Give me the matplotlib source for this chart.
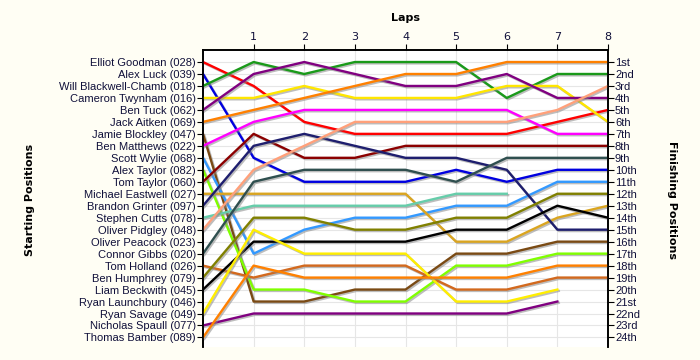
import matplotlib.pyplot as plt
import matplotlib.patheffects as pe

# starting grid, top to bottom
riders = ['Elliot Goodman (028)', 'Alex Luck (039)', 'Will Blackwell-Chamb (018)',
          'Cameron Twynham (016)', 'Ben Tuck (062)', 'Jack Aitken (069)',
          'Jamie Blockley (047)', 'Ben Matthews (022)', 'Scott Wylie (068)',
          'Alex Taylor (082)', 'Tom Taylor (060)', 'Michael Eastwell (027)',
          'Brandon Grinter (097)', 'Stephen Cutts (078)', 'Oliver Pidgley (048)',
          'Oliver Peacock (023)', 'Connor Gibbs (020)', 'Tom Holland (026)',
          'Ben Humphrey (079)', 'Liam Beckwith (045)', 'Ryan Launchbury (046)',
          'Ryan Savage (049)', 'Nicholas Spaull (077)', 'Thomas Bamber (089)']

finish_labels = ['1st', '2nd', '3rd', '4th', '5th', '6th', '7th', '8th', '9th', '10th',
                 '11th', '12th', '13th', '14th', '15th', '16th', '17th', '18th', '19th',
                 '20th', '21st', '22nd', '23rd', '24th']

laps = [0, 1, 2, 3, 4, 5, 6, 7, 8]

# position at each lap (lap 0 = grid slot), one list per grid slot
positions = [
    [1, 3, 6, 7, 7, 7, 7, 6, 5],
    [2, 9, 11, 11, 11, 10, 11, 10, 10],
    [3, 1, 2, 1, 1, 1, 4, 2, 2],
    [4, 4, 3, 4, 4, 4, 3, 3, 6],
    [5, 2, 1, 2, 3, 3, 2, 4, 4],
    [6, 5, 4, 3, 2, 2, 1, 1, 1],
    [7, 21, 21, 20, 20, 17, 17, 16, 16],
    [8, 6, 5, 5, 5, 5, 5, 7, 7],
    [9, 17, 15, 14, 14, 13, 13, 11, 11],
    [10, 20, 20, 21, 21, 18, 18, 17, 17],
    [11, 7, 9, 9, 8, 8, 8, 8, 8],
    [12, 12, 12, 12, 12, 16, 16, 14, 13],
    [13, 8, 7, 8, 9, 9, 10, 15, 15],
    [14, 13, 13, 13, 13, 12, 12],
    [15, 10, 8, 6, 6, 6, 6, 5, 3],
    [],
    [17, 11, 10, 10, 10, 11, 9, 9, 9],
    [18, 19, 18, 18, 18, 20, 20, 19, 19],
    [19, 14, 14, 15, 15, 14, 14, 12, 12],
    [20, 16, 16, 16, 16, 15, 15, 13, 14],
    [],
    [22, 15, 17, 17, 17, 21, 21, 20],
    [23, 22, 22, 22, 22, 22, 22, 21],
    [24, 18, 19, 19, 19, 19, 19, 18, 18],
]

colors = ['#FF0000', '#0000E0', '#1A9A1A', '#FFE600', '#800080', '#FF8000',
          '#7A4A14', '#FF00FF', '#3399FF', '#80FF00', '#8B0000', '#DAA520',
          '#1E1E6E', '#66CDAA', '#FFA07A', '#2F4F4F', '#2F4F4F', '#D2691E',
          '#808000', '#000000', '#FFEE00', '#FFEE00', '#800080', '#FF8000']

text_col = '#10103a'

fig = plt.figure(figsize=(7, 3.6), dpi=100, facecolor='#FFFEF4')
ax = fig.add_axes([0.29, 0.036, 0.5786, 0.825])
ax.set_facecolor('white')

shadow = [pe.SimpleLineShadow(offset=(1, -1), shadow_color='#888888', alpha=0.55),
          pe.Normal()]

for i, pos in enumerate(positions):
    if not pos:
        continue
    ax.plot(laps[:len(pos)], pos, color=colors[i], lw=1.7, zorder=3,
            path_effects=shadow)

ax.set_xlim(0, 8)
ax.set_ylim(24.8, 0)

ax.set_xticks(laps[1:])
ax.xaxis.tick_top()
ax.tick_params(axis='x', length=4, labelsize=8, colors='black', labelcolor=text_col, pad=2)

rows = list(range(1, 25))
ax.set_yticks(rows)
ax.set_yticklabels(riders, fontsize=8, color=text_col, family='Liberation Sans')
ax.tick_params(axis='y', length=4, pad=1)

ax.grid(True, color='#E6E6E6', lw=0.8, zorder=0)
ax.set_axisbelow(True)

ax2 = ax.twinx()
ax2.set_ylim(24.8, 0)
ax2.set_yticks(rows)
ax2.set_yticklabels(finish_labels, fontsize=8, color=text_col, family='Liberation Sans')
ax2.tick_params(axis='y', length=4, pad=1)

for a in (ax, ax2):
    a.spines['bottom'].set_visible(False)
    for s in ('left', 'right', 'top'):
        a.spines[s].set_linewidth(1.2)

fig.text(405 / 700, 1 - 18 / 360, 'Laps', fontsize=8, fontweight='bold', ha='center', va='center')
fig.text(30 / 700, 1 - 200 / 360, 'Starting Positions', fontsize=8, fontweight='bold',
         rotation=90, ha='center', va='center')
fig.text(672 / 700, 1 - 200 / 360, 'Finishing Positions', fontsize=8, fontweight='bold',
         rotation=270, ha='center', va='center')

fig.savefig('out.png', dpi=100, facecolor=fig.get_facecolor())
